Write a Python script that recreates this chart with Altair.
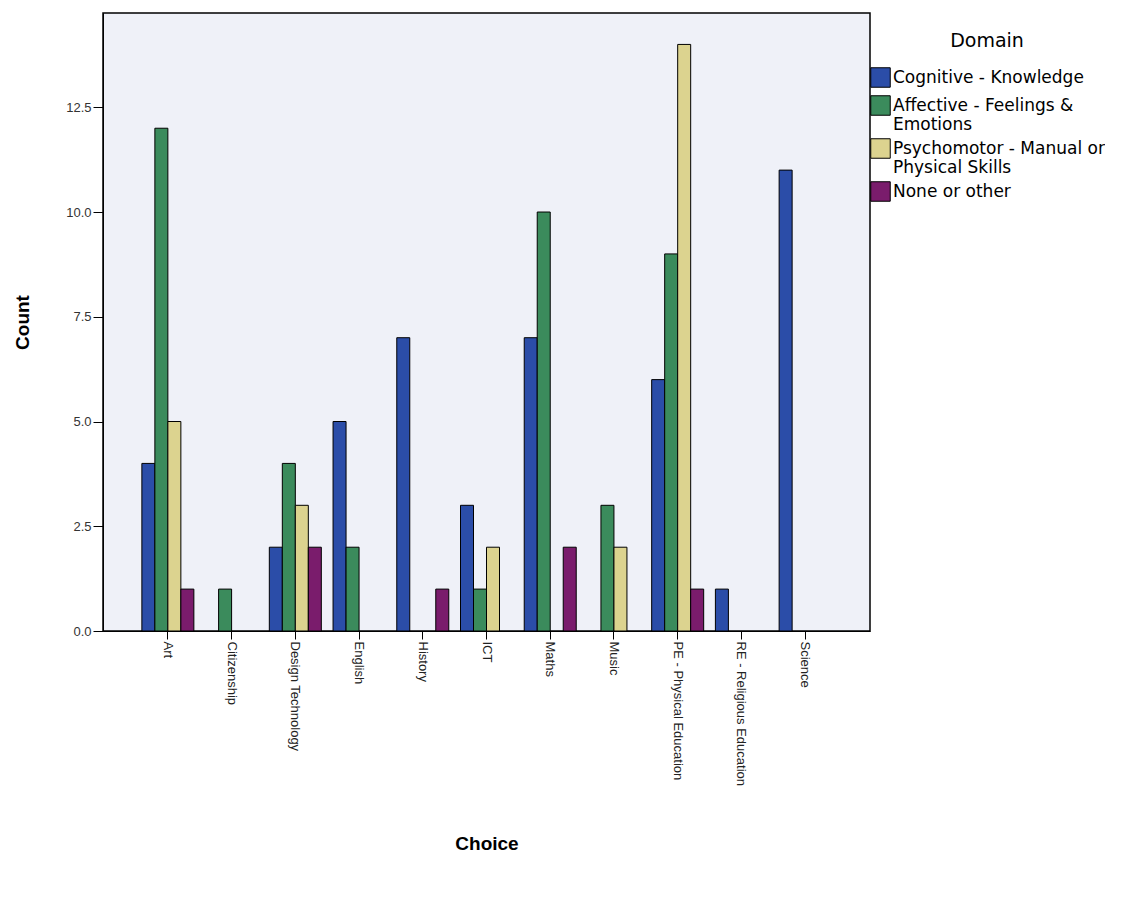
import altair as alt
import pandas as pd

choices = ["Art", "Citizenship", "Design Technology", "English", "History", "ICT",
           "Maths", "Music", "PE - Physical Education", "RE - Religious Education", "Science"]
domains = ["Cognitive - Knowledge", "Affective - Feelings & Emotions",
           "Psychomotor - Manual or Physical Skills", "None or other"]
colors = ["#2B4DA8", "#3B8B5C", "#DCD38F", "#7A1C6C"]

cognitive = [4, 0, 2, 5, 7, 3, 7, 0, 6, 1, 11]
affective = [12, 1, 4, 2, 0, 1, 10, 3, 9, 0, 0]
psychomotor = [5, 0, 3, 0, 0, 2, 0, 2, 14, 0, 0]
none_other = [1, 0, 2, 0, 1, 0, 2, 0, 1, 0, 0]

rows = []
for series, name in zip([cognitive, affective, psychomotor, none_other], domains):
    for c, v in zip(choices, series):
        if v > 0:
            rows.append({"Choice": c, "Domain": name, "Count": v})
df = pd.DataFrame(rows)

label_expr = ("datum.label == 'Affective - Feelings & Emotions' ? ['Affective - Feelings &', 'Emotions'] : "
              "datum.label == 'Psychomotor - Manual or Physical Skills' ? ['Psychomotor - Manual or', 'Physical Skills'] : "
              "datum.label")

chart = alt.Chart(df).mark_bar(stroke="black", strokeWidth=1).encode(
    x=alt.X("Choice:N", sort=choices,
            scale=alt.Scale(domain=choices, paddingInner=0.184, paddingOuter=0.61),
            axis=alt.Axis(title="Choice", labelAngle=90, labelAlign="left", labelBaseline="middle",
                          labelFontSize=13, labelColor="#222", labelFont="Liberation Sans",
                          tickSize=8, tickColor="black", domainColor="black",
                          titleFontSize=19, titleFontWeight="bold", titleFont="Liberation Sans",
                          titlePadding=49, labelPadding=2)),
    xOffset=alt.XOffset("Domain:N", sort=domains, scale=alt.Scale(domain=domains)),
    y=alt.Y("Count:Q", scale=alt.Scale(domain=[0, 14.75], nice=False),
            axis=alt.Axis(title="Count", values=[0, 2.5, 5, 7.5, 10, 12.5], format=".1f",
                          grid=False, labelFontSize=13, labelColor="#333", labelFont="Liberation Sans",
                          tickSize=10, tickColor="black", domainColor="black",
                          titleFontSize=19, titleFontWeight="bold", titleFont="Liberation Sans",
                          titlePadding=33)),
    color=alt.Color("Domain:N", sort=domains,
                    scale=alt.Scale(domain=domains, range=colors),
                    legend=alt.Legend(title="Domain", orient="none", legendX=767, legendY=19,
                                      titleFontSize=19, titleFontWeight="normal", titleFont="DejaVu Sans",
                                      titleAnchor="middle", titlePadding=16, titleColor="black",
                                      labelFontSize=17, labelFont="DejaVu Sans", labelColor="black",
                                      labelExpr=label_expr, labelLimit=300,
                                      symbolType="square", symbolSize=380, symbolStrokeColor="black",
                                      symbolStrokeWidth=1, symbolOpacity=1, rowPadding=3,
                                      labelOffset=2))
).properties(
    width=767, height=618, background="white",
    padding={"left": 5, "top": 5, "right": 0, "bottom": 5}
).configure_view(
    stroke="black", strokeWidth=1.5, fill="#EFF1F8"
)

chart.save("out.html", embed_options={"renderer": "svg", "actions": False})
